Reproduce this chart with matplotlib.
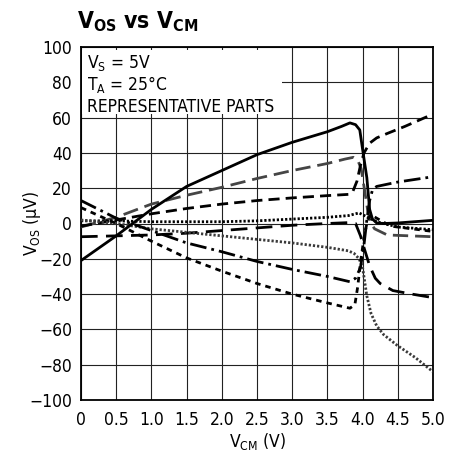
import matplotlib
matplotlib.use("Agg")
import matplotlib.pyplot as plt
import matplotlib.font_manager as fm
from matplotlib.patches import Rectangle

# pick a narrow sans if one is installed, else fall back to Roboto
have = {(f.name, f.stretch) for f in fm.fontManager.ttflist}
names = {n for n, s in have}
stretch = "normal"
if "Liberation Sans Narrow" in names:
    family = "Liberation Sans Narrow"
elif ("DejaVu Sans", "condensed") in have:
    family = "DejaVu Sans"
    stretch = "condensed"
else:
    family = "Roboto"
plt.rcParams['font.family'] = [family, 'DejaVu Sans']
plt.rcParams['font.stretch'] = stretch
plt.rcParams['mathtext.default'] = 'regular'

# data (V_CM in volts, V_OS in microvolts)
solid_x = [0, 0.5, 1.0, 1.5, 2.0, 2.5, 3.0, 3.5, 3.7, 3.82, 3.9, 3.96, 4.0, 4.06, 4.1, 4.14, 4.2, 4.3, 4.5, 5.0]
solid_y = [-21, -7, 8, 21, 30, 39, 46, 52, 55, 57, 56, 53, 42, 26, 8, 2.5, 0.3, 0, 0.3, 1.8]

gray_x = [0, 0.5, 1.0, 1.5, 2.0, 2.5, 3.0, 3.5, 3.75, 3.87, 3.93, 3.98, 4.02, 4.07, 4.12, 4.17, 4.35, 5.0]
gray_y = [-2, 3.5, 11, 16, 20.5, 25.5, 30, 34, 36.5, 37.5, 36, 31, 21, 8, 0, -3, -6.5, -7.5]

dash_x = [0, 0.5, 1.0, 1.5, 2.0, 2.5, 3.0, 3.5, 3.8, 3.86, 3.92, 3.97, 4.02, 4.1, 4.2, 4.35, 4.6, 5.0]
dash_y = [-1.5, 2, 5.5, 8.5, 11, 13, 14.5, 15.8, 16.5, 18, 24, 33, 40, 45.5, 48.5, 51, 55, 62]

dot_top_x = [0, 0.5, 1.0, 1.5, 2.0, 2.5, 3.0, 3.5, 3.8, 3.95, 4.05, 4.2, 4.5, 5.0]
dot_top_y = [1.5, 1.5, 1, 1, 1, 1.5, 2.5, 3.5, 4.5, 6, 4, 1, -2, -3.5]

longdash_x = [0, 0.5, 1.0, 1.5, 2.0, 2.5, 3.0, 3.5, 3.8, 3.9, 3.97, 4.03, 4.1, 4.18, 4.25, 4.43, 4.7, 5.0]
longdash_y = [-7.5, -7, -6.5, -5.5, -4, -2.5, -1, 0, 0.5, 0, -7, -15, -24, -31, -34, -38, -40, -42]

dot_low_x = [0, 0.5, 1.0, 1.5, 2.0, 2.5, 3.0, 3.5, 3.8, 3.88, 3.95, 4.0, 4.06, 4.12, 4.2, 4.3, 4.49, 4.75, 5.0]
dot_low_y = [2, 0, -3, -5, -7, -9, -11, -13.5, -15.5, -17, -20, -25, -41, -51, -58, -63, -69, -76, -84]

dashdot_x = [0, 0.5, 1.0, 1.5, 2.0, 2.5, 3.0, 3.5, 3.82, 3.9, 3.97, 4.02, 4.06, 4.1, 4.14, 4.2, 4.5, 5.0]
dashdot_y = [13, 3, -4, -11, -16, -21.5, -26, -30, -33, -31, -25, -12, 2, 13, 19, 21, 23.5, 26.5]

short_x = [0, 0.5, 1.0, 1.5, 2.0, 2.5, 3.0, 3.5, 3.82, 3.89, 3.93, 3.97, 4.02, 4.07, 4.12, 4.2, 4.4, 5.0]
short_y = [9, 0, -10, -19.5, -27, -34, -40, -45, -48, -46, -36, -22, -8, 2, 5, 3, -1.5, -4.5]

xticks = [0, 0.5, 1.0, 1.5, 2.0, 2.5, 3.0, 3.5, 4.0, 4.5, 5.0]
xticklabels = ["0", "0.5", "1.0", "1.5", "2.0", "2.5", "3.0", "3.5", "4.0", "4.5", "5.0"]
yticks = [-100, -80, -60, -40, -20, 0, 20, 40, 60, 80, 100]
yticklabels = ["\u2212100", "\u221280", "\u221260", "\u221240", "\u221220", "0", "20", "40", "60", "80", "100"]

fs = 12.5 if family != "Roboto" else 12

fig = plt.figure(figsize=(4.6, 4.62), dpi=100)
ax = fig.add_axes([81 / 460, 1 - 400 / 462, 352 / 460, 353 / 462])

lw = 2.0
ax.plot(solid_x, solid_y, color="black", lw=lw, solid_joinstyle="round", zorder=5)
ax.plot(gray_x, gray_y, color="#454545", lw=lw, dashes=[5.5, 2.5], zorder=4)
ax.plot(dash_x, dash_y, color="black", lw=lw, dashes=[4, 2.2], zorder=4)
ax.plot(dot_top_x, dot_top_y, color="black", lw=lw, dashes=[0.8, 0.7], zorder=4)
ax.plot(longdash_x, longdash_y, color="black", lw=lw, dashes=[6, 3], zorder=4)
ax.plot(dot_low_x, dot_low_y, color="#3a3a3a", lw=lw, dashes=[0.8, 0.7], zorder=4)
ax.plot(dashdot_x, dashdot_y, color="black", lw=lw, dashes=[6, 1.8, 1, 1.8], zorder=4)
ax.plot(short_x, short_y, color="black", lw=lw, dashes=[2, 1.8], zorder=4)

ax.set_xlim(0, 5)
ax.set_ylim(-100, 100)
ax.set_xticks(xticks)
ax.set_xticklabels(xticklabels)
ax.set_yticks(yticks)
ax.set_yticklabels(yticklabels)
ax.tick_params(length=0, labelsize=fs)
ax.tick_params(axis="x", pad=8)
ax.tick_params(axis="y", pad=6.5)
ax.grid(True, color="#222222", lw=0.8, zorder=1)
ax.set_axisbelow(True)
for s in ax.spines.values():
    s.set_linewidth(1.3)

# white box behind the condition text
ax.add_patch(Rectangle((0.01, 62), 2.84, 36.5, facecolor="white", edgecolor="none", zorder=2))
ax.text(0.085, 88.1, r"$V_{S}$ = 5V", fontsize=fs, va="baseline", zorder=3)
ax.text(0.085, 75.6, r"$T_{A}$ = 25°C", fontsize=fs, va="baseline", zorder=3)
ax.text(0.085, 63.2, "REPRESENTATIVE PARTS", fontsize=fs, va="baseline", zorder=3)

fig.text(77 / 460, 1 - 28 / 462, r"$V_{OS}$ vs $V_{CM}$", fontsize=16.5, fontweight="bold",
         ha="left", va="baseline")
fig.text(32 / 460, 1 - 223 / 462, r"$V_{OS}$ (µV)", fontsize=fs, rotation=90,
         ha="center", va="center")
fig.text(257 / 460, 1 - 441 / 462, r"$V_{CM}$ (V)", fontsize=fs, ha="center", va="center")

fig.savefig("out.png", dpi=100)
